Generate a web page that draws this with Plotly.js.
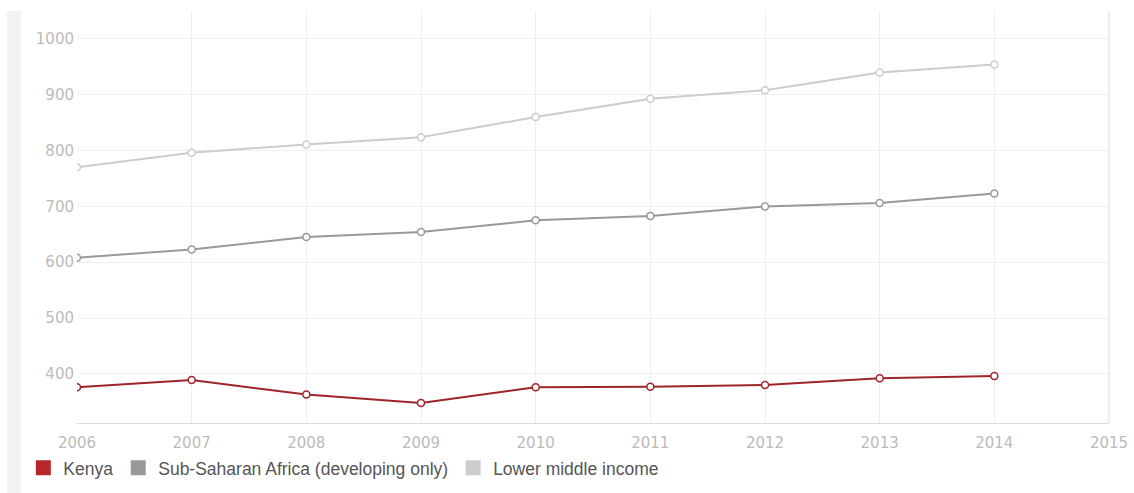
<!DOCTYPE html>
<html>
<head>
<meta charset="utf-8">
<script src="https://cdn.plot.ly/plotly-3.0.1.min.js"></script>
<style>
  html, body { margin: 0; padding: 0; background: #fff; }
  #wrap { position: relative; width: 1134px; height: 493px; }
  #strip { position: absolute; left: 7px; top: 11px; width: 14px; height: 482px; background: #f2f2f2; }
  #chart { position: absolute; left: 0; top: 0; width: 1134px; height: 493px; }
</style>
</head>
<body>
<div id="wrap"><div id="strip"></div><div id="chart"></div></div>
<script>
const years = [2006, 2007, 2008, 2009, 2010, 2011, 2012, 2013, 2014];
const kenya = [376, 389, 363, 348, 376, 377, 380, 392, 396];
const subSaharan = [608, 623, 645, 654, 675, 683, 700, 706, 723];
const lowerMiddle = [770, 796, 811, 824, 860, 893, 908, 940, 954];
const seriesNames = ['Kenya', 'Sub-Saharan Africa (developing only)', 'Lower middle income'];
const lineColors = ['#9e2429', '#999999', '#cccccc'];
const legendColors = ['#b8262c', '#999999', '#cccccc'];
const xTicks = [2006, 2007, 2008, 2009, 2010, 2011, 2012, 2013, 2014, 2015];
const yTicks = [400, 500, 600, 700, 800, 900, 1000];

const values = [kenya, subSaharan, lowerMiddle];
const traces = [];
[2, 1, 0].forEach(i => {
  traces.push({
    x: years, y: values[i], type: 'scatter', mode: 'lines+markers',
    name: seriesNames[i], showlegend: false,
    line: { color: lineColors[i], width: 2 },
    marker: { symbol: 'circle', size: 7, color: '#ffffff', line: { color: lineColors[i], width: 1.5 } },
    hoverinfo: 'x+y+name'
  });
});
[0, 1, 2].forEach(i => {
  traces.push({
    x: [null], y: [null], type: 'scatter', mode: 'markers',
    name: seriesNames[i], showlegend: true,
    marker: { symbol: 'square', size: 15, color: legendColors[i], line: { width: 0 } }
  });
});

const layout = {
  width: 1134, height: 493,
  margin: { l: 77, r: 25, t: 11, b: 70, autoexpand: false },
  paper_bgcolor: 'rgba(0,0,0,0)',
  plot_bgcolor: '#ffffff',
  font: { family: 'Arial, "Liberation Sans", sans-serif' },
  xaxis: {
    range: [2006, 2015], tickvals: xTicks, ticktext: xTicks.map(String),
    showgrid: true, gridcolor: '#eeeeee', gridwidth: 1,
    zeroline: false, showline: true, linecolor: '#dddddd', linewidth: 1, mirror: false,
    ticks: '', ticklabelstandoff: 6, automargin: false,
    tickfont: { family: '"DejaVu Sans", sans-serif', size: 15, color: '#bbbbbb' },
    fixedrange: true
  },
  yaxis: {
    range: [312, 1050], tickvals: yTicks, ticktext: yTicks.map(String),
    showgrid: true, gridcolor: '#eeeeee', gridwidth: 1,
    zeroline: false, showline: false, ticks: '', ticklabelstandoff: 2, automargin: false,
    tickfont: { family: '"DejaVu Sans", sans-serif', size: 15, color: '#bbbbbb' },
    fixedrange: true
  },
  shapes: [
    { type: 'line', xref: 'paper', yref: 'paper', x0: 1, x1: 1, y0: 0, y1: 1, line: { color: '#dddddd', width: 1 } }
  ],
  showlegend: true,
  legend: {
    orientation: 'h', x: -0.052, xanchor: 'left', y: -0.109, yanchor: 'middle',
    font: { family: 'Arial, "Liberation Sans", sans-serif', size: 17.5, color: '#555555' },
    bgcolor: 'rgba(0,0,0,0)', itemclick: false, itemdoubleclick: false,
    traceorder: 'normal'
  },
  hovermode: 'closest'
};

Plotly.newPlot('chart', traces, layout, { displayModeBar: false });
</script>
</body>
</html>
